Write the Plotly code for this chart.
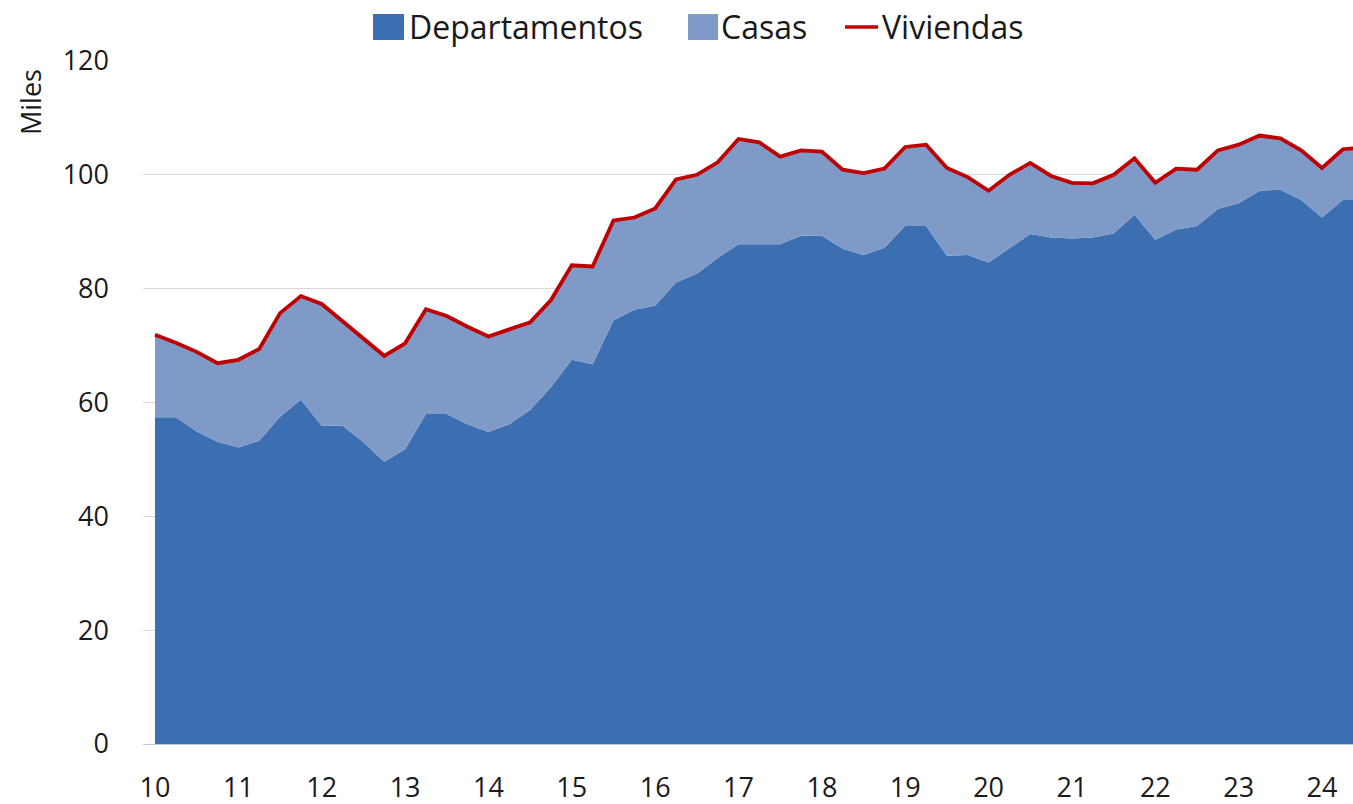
import plotly.graph_objects as go

# Quarterly periods 2010Q1 .. 2024Q3 (last point partly cropped at the right edge)
years = list(range(2010, 2025))
quarters = [f"{y}T{q}" for y in years for q in range(1, 5)][:59]

departamentos = [57.4, 57.4, 54.9, 53.1, 52.1, 53.3, 57.5, 60.5, 55.9, 55.9,
                 53.0, 49.6, 51.8, 58.0, 58.0, 56.2, 54.8, 56.2, 58.7, 62.7,
                 67.5, 66.7, 74.4, 76.3, 77.0, 81.1, 82.6, 85.4, 87.8, 87.8,
                 87.8, 89.3, 89.3, 87.0, 85.9, 87.2, 91.0, 91.0, 85.8, 85.9,
                 84.6, 87.1, 89.6, 89.0, 88.8, 89.0, 89.7, 93.0, 88.6, 90.4,
                 91.0, 94.0, 95.0, 97.2, 97.4, 95.6, 92.5, 95.6, 95.6]
casas = [14.5, 13.1, 14.0, 13.8, 15.4, 16.1, 18.2, 18.2, 21.4, 18.3,
         18.1, 18.6, 18.6, 18.4, 17.2, 17.1, 16.8, 16.7, 15.4, 15.3,
         16.6, 17.2, 17.6, 16.2, 17.1, 18.1, 17.4, 16.8, 18.5, 17.9,
         15.4, 15.0, 14.8, 13.9, 14.4, 13.9, 13.9, 14.3, 15.4, 13.7,
         12.6, 12.9, 12.5, 10.8, 9.8, 9.5, 10.3, 9.9, 10.0, 10.7,
         9.9, 10.3, 10.3, 9.7, 9.0, 8.7, 8.7, 8.9, 9.2]
viviendas = [round(d + c, 1) for d, c in zip(departamentos, casas)]

tick_labels = [str(y % 100) for y in years]

x = list(range(len(quarters)))
tick_vals = [x[i] for i in range(0, len(quarters), 4)][:len(tick_labels)]

C_DEP = "#3C6EB2"
C_CAS = "#7F9AC7"
C_VIV = "#C00000"
FONT = "Open Sans"
TXT = "#1a1a1a"

fig = go.Figure()
fig.add_trace(go.Scatter(x=x, y=departamentos, name="Departamentos", mode="lines",
                         line=dict(width=0, color=C_DEP), fill="tozeroy",
                         fillcolor=C_DEP, customdata=quarters, showlegend=False))
fig.add_trace(go.Scatter(x=x, y=viviendas, name="Casas", mode="lines",
                         line=dict(width=0, color=C_CAS), fill="tonexty",
                         fillcolor=C_CAS, customdata=casas, showlegend=False))
fig.add_trace(go.Scatter(x=x, y=viviendas, name="Viviendas", mode="lines",
                         line=dict(width=3.8, color=C_VIV), showlegend=False))

# plot-area geometry in page pixels
L, R, T, B = 143, 1353, 61, 744
W, H = 1353, 804
step = 20.84
first = 155


def px(p):
    return (p - L) / (R - L)


def py(p):
    return (B - p) / (B - T)


x0 = (L - first) / step
x1 = (R - first) / step

shapes = [
    dict(type="rect", xref="paper", yref="paper", x0=px(373), x1=px(404),
         y0=py(40), y1=py(14), fillcolor=C_DEP, line=dict(width=0)),
    dict(type="rect", xref="paper", yref="paper", x0=px(688), x1=px(718),
         y0=py(40), y1=py(14), fillcolor=C_CAS, line=dict(width=0)),
    dict(type="line", xref="paper", yref="paper", x0=px(845), x1=px(878),
         y0=py(27), y1=py(27), line=dict(color=C_VIV, width=3.5)),
]
annotations = [
    dict(text="Departamentos", x=px(407), y=py(26), xref="paper", yref="paper",
         xanchor="left", yanchor="middle", showarrow=False,
         font=dict(family=FONT, size=32, color=TXT)),
    dict(text="Casas", x=px(719), y=py(26), xref="paper", yref="paper",
         xanchor="left", yanchor="middle", showarrow=False,
         font=dict(family=FONT, size=32, color=TXT)),
    dict(text="Viviendas", x=px(880), y=py(26), xref="paper", yref="paper",
         xanchor="left", yanchor="middle", showarrow=False,
         font=dict(family=FONT, size=32, color=TXT)),
    dict(text="Miles", x=px(30), y=py(102), xref="paper", yref="paper",
         xanchor="center", yanchor="middle", textangle=-90, showarrow=False,
         font=dict(family=FONT, size=27, color=TXT)),
]

fig.update_layout(
    width=W, height=H,
    margin=dict(l=L, r=W - R, t=T, b=H - B, pad=0, autoexpand=False),
    paper_bgcolor="white", plot_bgcolor="white",
    font=dict(family=FONT, size=27, color=TXT),
    shapes=shapes, annotations=annotations,
    showlegend=False,
    xaxis=dict(range=[x0, x1], tickvals=tick_vals, ticktext=tick_labels,
               showgrid=False, zeroline=False, showline=False, ticks="",
               automargin=False,
               ticklabelstandoff=25, tickfont=dict(size=27, family=FONT, color=TXT)),
    yaxis=dict(range=[0, 120], tickvals=[0, 20, 40, 60, 80, 100, 120],
               showgrid=True, gridcolor="#d9d9d9", gridwidth=1,
               zeroline=True, zerolinecolor="#bfc9d9", zerolinewidth=1,
               showline=False, ticks="", ticklabelstandoff=33, automargin=False,
               tickfont=dict(size=27, family=FONT, color=TXT)),
)

fig.write_html(
    "out.html",
    config={"displayModeBar": False},
    post_script="document.body.style.margin='0';document.body.style.overflow='hidden';",
)
